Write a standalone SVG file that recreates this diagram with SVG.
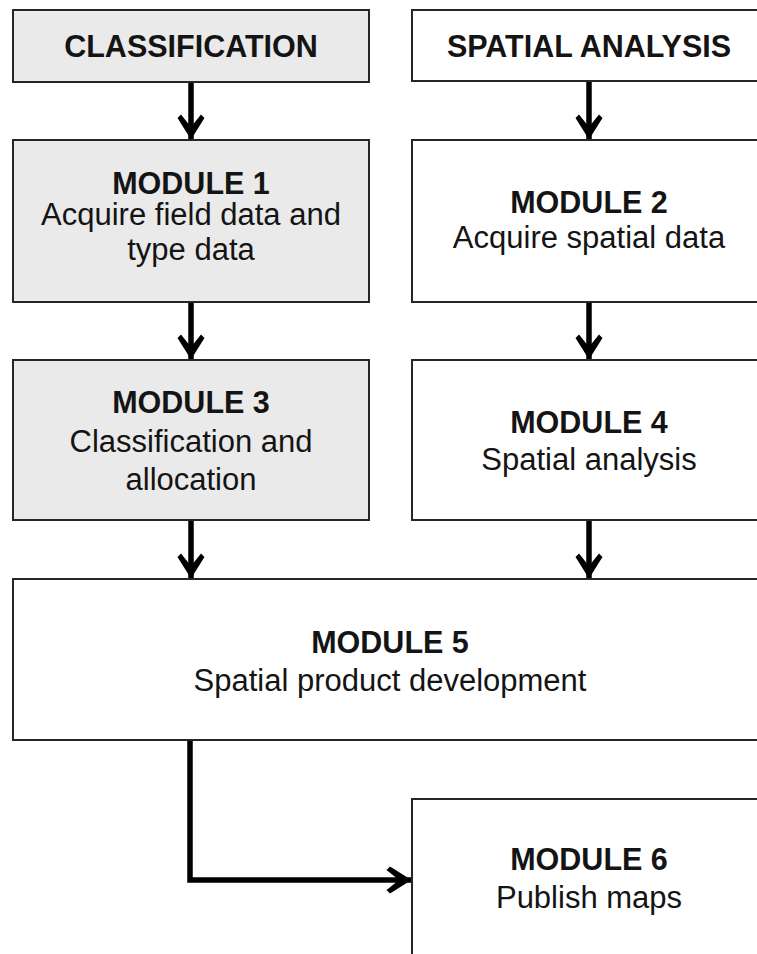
<svg xmlns="http://www.w3.org/2000/svg" width="757" height="954" viewBox="0 0 757 954">
  <style>
    .box { stroke: #262626; stroke-width: 2; }
    .grey { fill: #eaeaea; }
    .white { fill: #ffffff; }
    text { font-family: "Liberation Sans", Arial, sans-serif; fill: #141414; text-anchor: middle; }
    .hd { font-weight: bold; font-size: 30.5px; }
    .tx { font-size: 31px; }
    .wire { fill: none; stroke: #000; stroke-width: 5.5; }
  </style>
  <defs>
    <!-- barbed arrowhead, tip at the path end -->
    <marker id="ah" viewBox="-26 -14 27 28" refX="0" refY="0" markerWidth="27" markerHeight="28" markerUnits="userSpaceOnUse" orient="auto">
      <path d="M0.5,0 L-21,-13.5 L-24.5,-10 L-12,0 L-24.5,10 L-21,13.5 Z" fill="#000"/>
    </marker>
  </defs>
  <rect width="757" height="954" fill="#ffffff"/>

  <g id="classification">
    <rect class="box grey" x="13" y="10" width="356" height="72"/>
    <text class="hd" x="191" y="57">CLASSIFICATION</text>
  </g>
  <g id="spatial-analysis">
    <rect class="box white" x="412" y="10" width="356" height="71"/>
    <text class="hd" x="589" y="57">SPATIAL ANALYSIS</text>
  </g>
  <g id="module1">
    <rect class="box grey" x="13" y="140" width="356" height="162"/>
    <text class="hd" x="191" y="194">MODULE 1</text>
    <text class="tx" x="191" y="225">Acquire field data and</text>
    <text class="tx" x="191" y="260">type data</text>
  </g>
  <g id="module2">
    <rect class="box white" x="412" y="140" width="356" height="162"/>
    <text class="hd" x="589" y="213">MODULE 2</text>
    <text class="tx" x="589" y="248">Acquire spatial data</text>
  </g>
  <g id="module3">
    <rect class="box grey" x="13" y="360" width="356" height="160"/>
    <text class="hd" x="191" y="413">MODULE 3</text>
    <text class="tx" x="191" y="452">Classification and</text>
    <text class="tx" x="191" y="490">allocation</text>
  </g>
  <g id="module4">
    <rect class="box white" x="412" y="360" width="356" height="160"/>
    <text class="hd" x="589" y="433">MODULE 4</text>
    <text class="tx" x="589" y="470">Spatial analysis</text>
  </g>
  <g id="module5">
    <rect class="box white" x="13" y="579" width="756" height="161"/>
    <text class="hd" x="390" y="653">MODULE 5</text>
    <text class="tx" x="390" y="691">Spatial product development</text>
  </g>
  <g id="module6">
    <rect class="box white" x="412" y="799" width="356" height="170"/>
    <text class="hd" x="589" y="870">MODULE 6</text>
    <text class="tx" x="589" y="908">Publish maps</text>
  </g>

  <g id="connectors">
    <path class="wire" d="M191,83 V139" marker-end="url(#ah)"/>
    <path class="wire" d="M589,82 V139" marker-end="url(#ah)"/>
    <path class="wire" d="M191,303 V359" marker-end="url(#ah)"/>
    <path class="wire" d="M589,303 V359" marker-end="url(#ah)"/>
    <path class="wire" d="M191,521 V578" marker-end="url(#ah)"/>
    <path class="wire" d="M589,521 V578" marker-end="url(#ah)"/>
    <path class="wire" d="M190,741 V880 H411" marker-end="url(#ah)"/>
  </g>
</svg>
